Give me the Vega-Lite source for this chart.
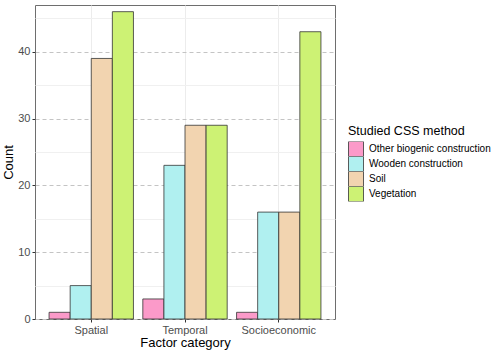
{
  "$schema": "https://vega.github.io/schema/vega-lite/v6.json",
  "width": 300,
  "height": 314,
  "autosize": {"type": "none"},
  "padding": {"left": 35, "top": 5, "right": 163, "bottom": 34},
  "background": "white",
  "config": {
    "font": "Liberation Sans",
    "view": {"stroke": "#6e6e6e", "strokeWidth": 1}
  },
  "data": {
    "values": [
      {"category": "Spatial", "method": "Other biogenic construction", "count": 1},
      {"category": "Spatial", "method": "Wooden construction", "count": 5},
      {"category": "Spatial", "method": "Soil", "count": 39},
      {"category": "Spatial", "method": "Vegetation", "count": 46},
      {"category": "Temporal", "method": "Other biogenic construction", "count": 3},
      {"category": "Temporal", "method": "Wooden construction", "count": 23},
      {"category": "Temporal", "method": "Soil", "count": 29},
      {"category": "Temporal", "method": "Vegetation", "count": 29},
      {"category": "Socioeconomic", "method": "Other biogenic construction", "count": 1},
      {"category": "Socioeconomic", "method": "Wooden construction", "count": 16},
      {"category": "Socioeconomic", "method": "Soil", "count": 16},
      {"category": "Socioeconomic", "method": "Vegetation", "count": 43}
    ]
  },
  "mark": {"type": "bar", "stroke": "#333333", "strokeWidth": 0.8, "opacity": 1},
  "encoding": {
    "x": {
      "field": "category",
      "type": "nominal",
      "sort": ["Spatial", "Temporal", "Socioeconomic"],
      "scale": {"paddingInner": 0.1, "paddingOuter": 0.15},
      "axis": {
        "title": "Factor category",
        "labelAngle": 0,
        "bandPosition": 0.5,
        "grid": true,
        "gridColor": "#ececec",
        "gridWidth": 1,
        "domain": false,
        "tickSize": 3,
        "tickColor": "#333333",
        "labelColor": "#4d4d4d",
        "labelFontSize": 11,
        "labelPadding": 2,
        "titleFontSize": 13,
        "titleFontWeight": "normal",
        "titleColor": "#000000",
        "titlePadding": 1
      }
    },
    "xOffset": {
      "field": "method",
      "type": "nominal",
      "sort": ["Other biogenic construction", "Wooden construction", "Soil", "Vegetation"],
      "scale": {"paddingInner": 0, "paddingOuter": 0}
    },
    "y": {
      "field": "count",
      "type": "quantitative",
      "scale": {"domain": [0, 47], "nice": false, "zero": true},
      "axis": {
        "title": "Count",
        "values": [0, 5, 10, 15, 20, 25, 30, 35, 40, 45],
        "labelExpr": "datum.value % 10 === 0 ? datum.label : ''",
        "grid": true,
        "gridDash": {"condition": {"test": "datum.value % 10 === 0", "value": [4, 3]}, "value": []},
        "gridColor": {"condition": {"test": "datum.value % 10 === 0", "value": "#c4c4c4"}, "value": "#f0f0f0"},
        "gridWidth": 1,
        "tickOpacity": {"condition": {"test": "datum.value % 10 === 0", "value": 1}, "value": 0},
        "domain": false,
        "tickSize": 3,
        "tickColor": "#333333",
        "labelColor": "#4d4d4d",
        "labelFontSize": 11,
        "labelPadding": 2,
        "titleFontSize": 13,
        "titleFontWeight": "normal",
        "titleColor": "#000000",
        "titlePadding": 2
      }
    },
    "fill": {
      "field": "method",
      "type": "nominal",
      "sort": ["Other biogenic construction", "Wooden construction", "Soil", "Vegetation"],
      "scale": {
        "domain": ["Other biogenic construction", "Wooden construction", "Soil", "Vegetation"],
        "range": ["#fb9ac9", "#b0f0f0", "#f2d4b0", "#cdf274"]
      },
      "legend": {
        "title": "Studied CSS method",
        "orient": "none",
        "legendX": 313,
        "legendY": 120,
        "titleFontSize": 12.5,
        "titleFontWeight": "normal",
        "titleColor": "#000000",
        "titlePadding": 4,
        "labelFontSize": 10,
        "labelColor": "#000000",
        "symbolType": "square",
        "symbolSize": 225,
        "symbolStrokeColor": "#333333",
        "symbolStrokeWidth": 0.8,
        "rowPadding": 0,
        "clipHeight": 15,
        "labelOffset": 5
      }
    }
  }
}
